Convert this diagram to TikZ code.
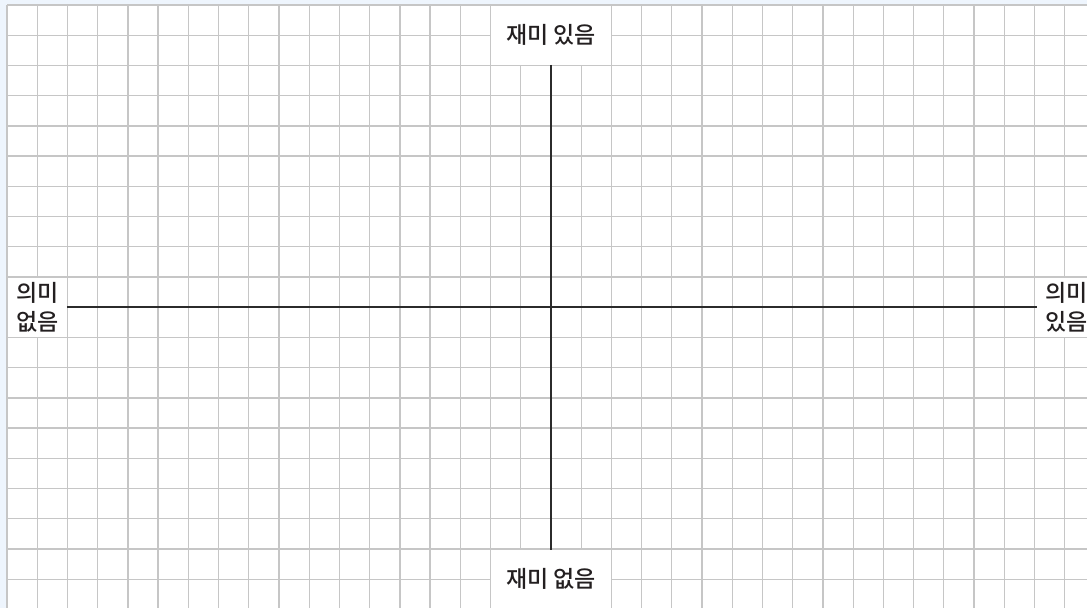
\documentclass[tikz,border=0pt]{standalone}
\usepackage{fontspec}
\newfontfamily\kor{Noto Sans CJK KR Medium}
\definecolor{cpaper}{HTML}{EEF5FD}
\definecolor{cgrid}{HTML}{C6C6C6}
\definecolor{caxis}{HTML}{2B2B2B}
\definecolor{ctext}{HTML}{231F20}
\tikzset{
  every picture/.style={x=1pt, y=-1pt},
  gridline/.style={draw=cgrid, line width=1.3pt},
  axis/.style={draw=caxis, line width=1.5pt},
  tag/.style={fill=white, inner sep=0pt, align=center, text=ctext,
    font=\kor\fontsize{23}{29}\selectfont},
  wide/.style={tag, minimum width=119.5pt, minimum height=59pt},
  side/.style={tag, minimum width=59pt, minimum height=59pt},
}
\begin{document}
\begin{tikzpicture}
  \useasboundingbox (0,0) rectangle (1087,608);
  \fill[cpaper] (0,0) rectangle (1087,608);
  \fill[white] (7,5) rectangle (1087,608);
  % grid
  \foreach \i in {0,...,35} \draw[gridline] ({7+30.22*\i},5) -- ({7+30.22*\i},608);
  \foreach \j in {0,...,19} \draw[gridline] (7,{5+30.22*\j}) -- (1087,{5+30.22*\j});
  % labels
  \node[wide] (fun) at (551,35.2) {재미 있음};
  \node[wide] (dull) at (551,579.2) {재미 없음};
  \node[side] (void) at (37.2,307.2) {의미\\없음};
  \node[side] (mean) at (1066.3,307.2) {의미\\있음};
  % axes
  \draw[axis] (fun.south) -- (dull.north);
  \draw[axis] (void.east) -- (mean.west);
\end{tikzpicture}
\end{document}
